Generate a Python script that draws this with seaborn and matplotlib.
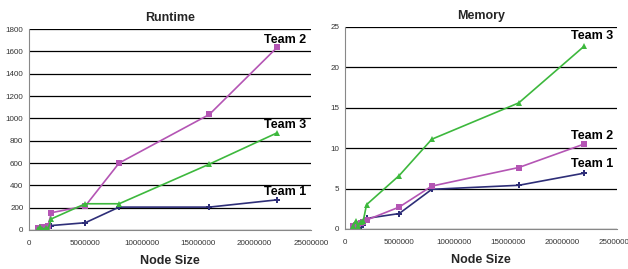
import matplotlib
matplotlib.use("Agg")
import matplotlib.pyplot as plt
import numpy as np
import pandas as pd
import seaborn as sns

node_size = [800000, 1000000, 1200000, 1500000, 1700000, 2000000, 5000000, 8000000, 16000000, 22000000]

runtime_team1 = [5, 10, 15, 20, 25, 40, 65, 205, 205, 270]
runtime_team2 = [15, 20, 25, 30, 40, 155, 215, 600, 1035, 1635]
runtime_team3 = [5, 25, 10, 15, 10, 100, 235, 235, 590, 870]

memory_team1 = [0.1, 0.2, 0.3, 0.3, 0.5, 1.3, 1.9, 4.9, 5.4, 6.9]
memory_team2 = [0.3, 0.5, 0.6, 0.7, 0.8, 1.1, 2.7, 5.3, 7.6, 10.5]
memory_team3 = [0.4, 1.0, 0.3, 0.9, 1.0, 3.0, 6.6, 11.1, 15.6, 22.6]

teams = ["Team 1", "Team 2", "Team 3"]
colors = {"Team 1": "#2E2E78", "Team 2": "#B455B4", "Team 3": "#3DB83D"}
markers = {"Team 1": "P", "Team 2": "s", "Team 3": "^"}


def long_df(series):
    rows = []
    for team, vals in zip(teams, series):
        for x, v in zip(node_size, vals):
            rows.append({"Node Size": x, "value": v, "team": team})
    return pd.DataFrame(rows)


sns.set_theme(style="white")
plt.rcParams['font.family'] = ['Liberation Sans', 'DejaVu Sans']

fig = plt.figure(figsize=(6.28, 2.69), dpi=100)
ax1 = fig.add_axes([0.046, 0.145, 0.449, 0.747])
ax2 = fig.add_axes([0.549, 0.149, 0.433, 0.751])

panels = [
    (ax1, long_df([runtime_team1, runtime_team2, runtime_team3]), "Runtime", 1800, 200,
     {"Team 1": 340, "Team 2": 1700, "Team 3": 940}),
    (ax2, long_df([memory_team1, memory_team2, memory_team3]), "Memory", 25, 5,
     {"Team 1": 8.0, "Team 2": 11.5, "Team 3": 23.9}),
]

for ax, df, title, ymax, ystep, label_y in panels:
    ax.set_facecolor("white")
    for t in teams:
        sns.lineplot(data=df[df["team"] == t], x="Node Size", y="value", ax=ax,
                     color=colors[t], marker=markers[t], markersize=4,
                     markeredgewidth=0, linewidth=1.2, legend=False)
        ax.text(22700000, label_y[t], t, fontsize=9, fontweight="bold",
                ha="center", va="center", color="black")
    ax.set_xlim(0, 25000000)
    ax.set_ylim(0, ymax)
    ax.set_xticks(np.arange(0, 25000001, 5000000))
    ax.set_xticklabels([str(v) for v in range(0, 25000001, 5000000)])
    ax.set_yticks(np.arange(0, ymax + 0.001, ystep))
    ax.yaxis.grid(True, color="black", linewidth=0.9)
    ax.set_axisbelow(True)
    ax.tick_params(axis="both", labelsize=5.8, length=2, width=0.6,
                   colors="#555555", labelcolor="#333333", pad=2)
    ax.tick_params(axis="x", pad=5)
    for side in ["top", "right"]:
        ax.spines[side].set_visible(False)
    for side in ["left", "bottom"]:
        ax.spines[side].set_color("#888888")
        ax.spines[side].set_linewidth(0.8)
    ax.set_title(title, fontsize=9, fontweight="bold", pad=6)
    ax.set_xlabel("Node Size", fontsize=9, fontweight="bold", labelpad=6)
    ax.set_ylabel("")

plt.savefig("out.png", dpi=100)
plt.close()
